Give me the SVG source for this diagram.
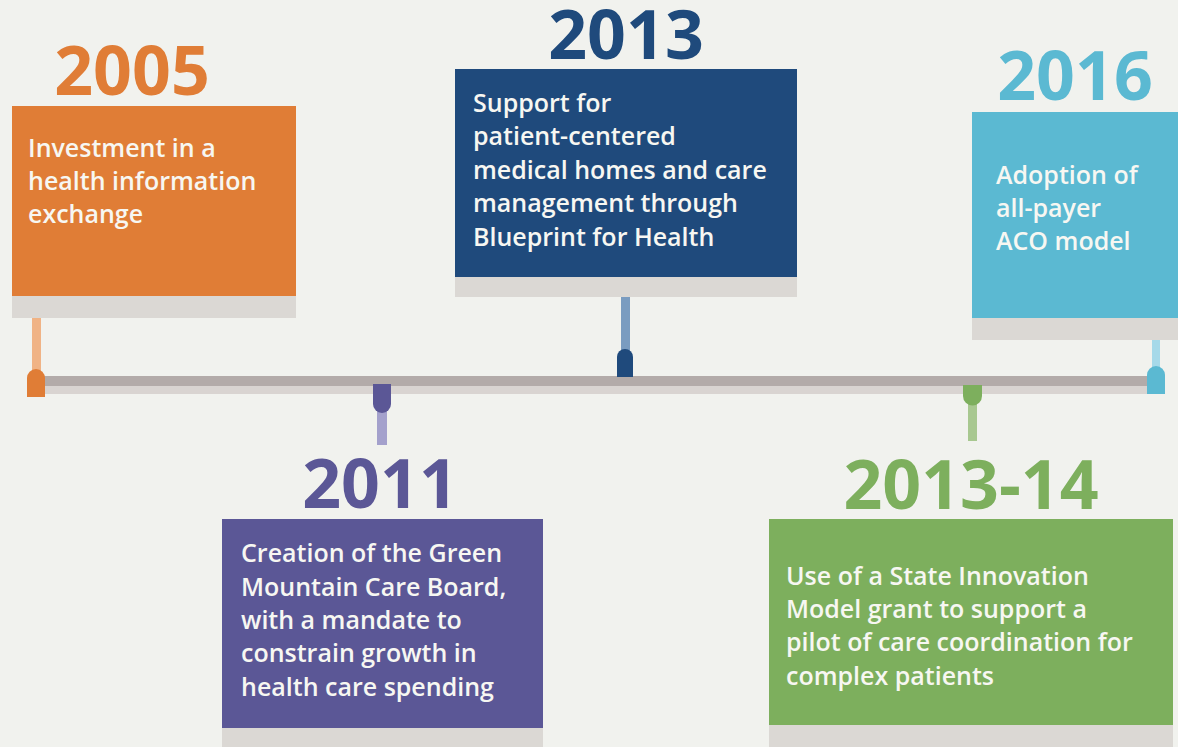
<svg xmlns="http://www.w3.org/2000/svg" width="1178" height="747" viewBox="0 0 1178 747">
<style>
.yr{font-family:"Open Sans","Liberation Sans",sans-serif;font-weight:700;font-size:68px;text-anchor:middle}
.tx{font-family:"Open Sans","Liberation Sans",sans-serif;font-weight:600;font-size:25px;fill:#f7f7f2}
.sh{fill:#dbd8d4}
</style>
<rect width="1178" height="747" fill="#f1f2ee"/>
<g id="timeline">
<rect x="30" y="376" width="1128" height="10" fill="#b3aba9"/>
<rect x="30" y="386" width="1128" height="8" fill="#d9d4d1"/>
</g>
<g id="connectors">
<rect x="32" y="296" width="9" height="80" fill="#f0b385"/>
<path d="M27,397 V378 A9,9 0 0 1 45,378 V397 Z" fill="#e07d36"/>
<rect x="377" y="400" width="10" height="45" fill="#a4a1cc"/>
<path d="M373,384 V404 A9,9 0 0 0 391,404 V384 Z" fill="#5b5796"/>
<rect x="621" y="277" width="9" height="76" fill="#7a9cc0"/>
<path d="M617,377 V357 A8,8 0 0 1 633,357 V377 Z" fill="#1f4a7c"/>
<rect x="968" y="395" width="9" height="46" fill="#a8c890"/>
<path d="M963,385 V396 A9.5,9.5 0 0 0 982,396 V385 Z" fill="#7daf5d"/>
<rect x="1152" y="318" width="8" height="52" fill="#a6d9e9"/>
<path d="M1147,394 V375 A9,9 0 0 1 1165,375 V394 Z" fill="#5bb9d2"/>
</g>
<g id="node-2005">
<text class="yr" x="132" y="95" fill="#e07d36">2005</text>
<rect class="sh" x="12" y="296" width="284" height="22"/>
<rect x="12" y="106" width="284" height="190" fill="#e07d36"/>
<text class="tx" x="28" y="157">Investment in a</text>
<text class="tx" x="28" y="190">health information</text>
<text class="tx" x="28" y="223">exchange</text>
</g>
<g id="node-2013">
<text class="yr" x="626" y="59" fill="#1f4a7c">2013</text>
<rect class="sh" x="455" y="277" width="342" height="20"/>
<rect x="455" y="69" width="342" height="208" fill="#1f4a7c"/>
<text class="tx" x="473" y="112">Support for</text>
<text class="tx" x="473" y="145">patient-centered</text>
<text class="tx" x="473" y="179">medical homes and care</text>
<text class="tx" x="473" y="212">management through</text>
<text class="tx" x="473" y="246">Blueprint for Health</text>
</g>
<g id="node-2016">
<text class="yr" x="1075" y="100" fill="#5bb9d2">2016</text>
<rect class="sh" x="972" y="318" width="206" height="22"/>
<rect x="972" y="112" width="206" height="206" fill="#5bb9d2"/>
<text class="tx" x="996" y="184">Adoption of</text>
<text class="tx" x="996" y="217">all-payer</text>
<text class="tx" x="996" y="250">ACO model</text>
</g>
<g id="node-2011">
<text class="yr" x="380" y="508" fill="#5b5796">2011</text>
<rect class="sh" x="222" y="728" width="321" height="19"/>
<rect x="222" y="519" width="321" height="209" fill="#5b5796"/>
<text class="tx" x="241" y="562">Creation of the Green</text>
<text class="tx" x="241" y="596">Mountain Care Board,</text>
<text class="tx" x="241" y="629">with a mandate to</text>
<text class="tx" x="241" y="662">constrain growth in</text>
<text class="tx" x="241" y="696">health care spending</text>
</g>
<g id="node-2013-14">
<text class="yr" x="971" y="509" fill="#7daf5d">2013-14</text>
<rect class="sh" x="769" y="725" width="404" height="22"/>
<rect x="769" y="519" width="404" height="206" fill="#7daf5d"/>
<text class="tx" x="786" y="585">Use of a State Innovation</text>
<text class="tx" x="786" y="618">Model grant to support a</text>
<text class="tx" x="786" y="651">pilot of care coordination for</text>
<text class="tx" x="786" y="685">complex patients</text>
</g>
</svg>
